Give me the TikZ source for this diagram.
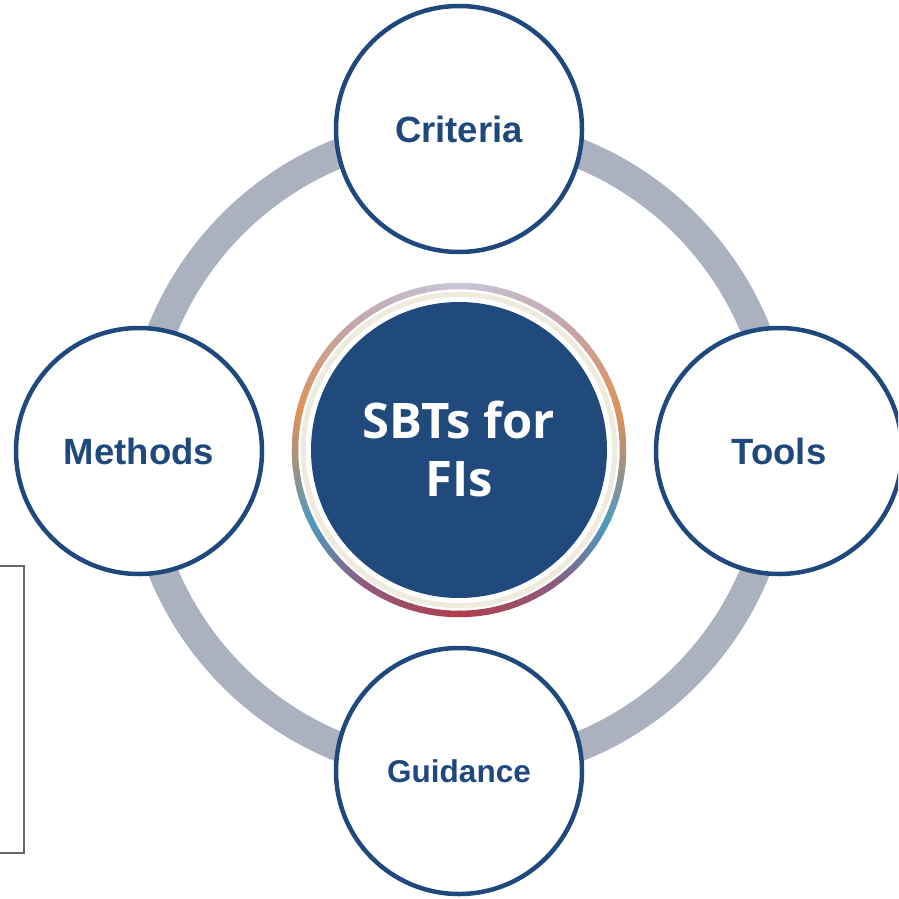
\documentclass[tikz,border=0pt]{standalone}
\usepackage{fontspec}
\setmainfont{Liberation Sans}
\newfontfamily\centerfont{Open Sans}
\definecolor{navy}{HTML}{1F497D}
\definecolor{navyfill}{HTML}{214A7C}
\definecolor{ringgray}{HTML}{ABB1BF}
\definecolor{cream}{HTML}{EEEADD}
\definecolor{gA}{HTML}{C9C6DA}
\definecolor{gB}{HTML}{C3A6AC}
\definecolor{gC}{HTML}{DF9157}
\definecolor{gD}{HTML}{A39181}
\definecolor{gE}{HTML}{4B9BC2}
\definecolor{gF}{HTML}{8C5B7C}
\definecolor{gG}{HTML}{B23E4C}
\tikzset{
  sat/.style={circle, draw=navy, line width=4.5pt, fill=white, minimum size=246pt, inner sep=0pt,
    text=navy, font=\bfseries\fontsize{36.5}{40}\selectfont},
  hub/.style={circle, fill=navyfill, minimum size=296pt, inner sep=0pt, text=white, align=center,
    font=\centerfont\bfseries\fontsize{49}{58}\selectfont}
}
\begin{document}
\begin{tikzpicture}[x=1pt,y=-1pt]
\useasboundingbox (0,0) rectangle (898,899);
\clip (0,0) rectangle (898,899);
\coordinate (c) at (459,450);
% big gray ring
\draw[ringgray, line width=29.5pt] (c) circle[radius=320];
% gradient ring round the hub
\begin{scope}[shift={(c)}, x=1pt, y=1pt]
  \foreach \aa/\ab/\ca/\cb in {90/50/gA/gB, 50/13/gB/gC, 13/-5/gC/gD, -5/-27/gD/gE, -27/-55/gE/gF, -55/-90/gF/gG} {
    \foreach \i in {0,...,9} {
      \pgfmathsetmacro\sa{\aa+(\ab-\aa)*\i/10}
      \pgfmathsetmacro\sb{\aa+(\ab-\aa)*(\i+1)/10+0.4*sign(\ab-\aa)}
      \pgfmathsetmacro\la{180-\sa}
      \pgfmathsetmacro\lb{180-\sb}
      \pgfmathtruncatemacro\pp{100-(\i*10+5)}
      \draw[line width=6.5pt, color=\ca!\pp!\cb] (\sa:164) arc[start angle=\sa, end angle=\sb, radius=164];
      \draw[line width=6.5pt, color=\ca!\pp!\cb] (\la:164) arc[start angle=\la, end angle=\lb, radius=164];
    }
  }
  \draw[cream, line width=5pt] (0,0) circle[radius=155.7];
\end{scope}
% hub
\node[hub] (hub) at (c) {\raisebox{2pt}{SBTs for}\\\raisebox{2pt}{FIs}};
% satellites
\node[sat] (crit) at (459,129) {Criteria};
\node[sat] (tools) at (779,451) {Tools};
\node[sat, font=\bfseries\fontsize{31.5}{36}\selectfont] (guid) at (459,771) {Guidance};
\node[sat] (meth) at (139,451) {Methods};
% small framed panel at left edge
\coordinate (p1) at (-2,566);
\coordinate (p2) at (24,566);
\coordinate (p3) at (24,853);
\coordinate (p4) at (-2,853);
\draw[gray!80!black, line width=1.2pt] (p1) -- (p2) -- (p3) -- (p4);
\end{tikzpicture}
\end{document}
